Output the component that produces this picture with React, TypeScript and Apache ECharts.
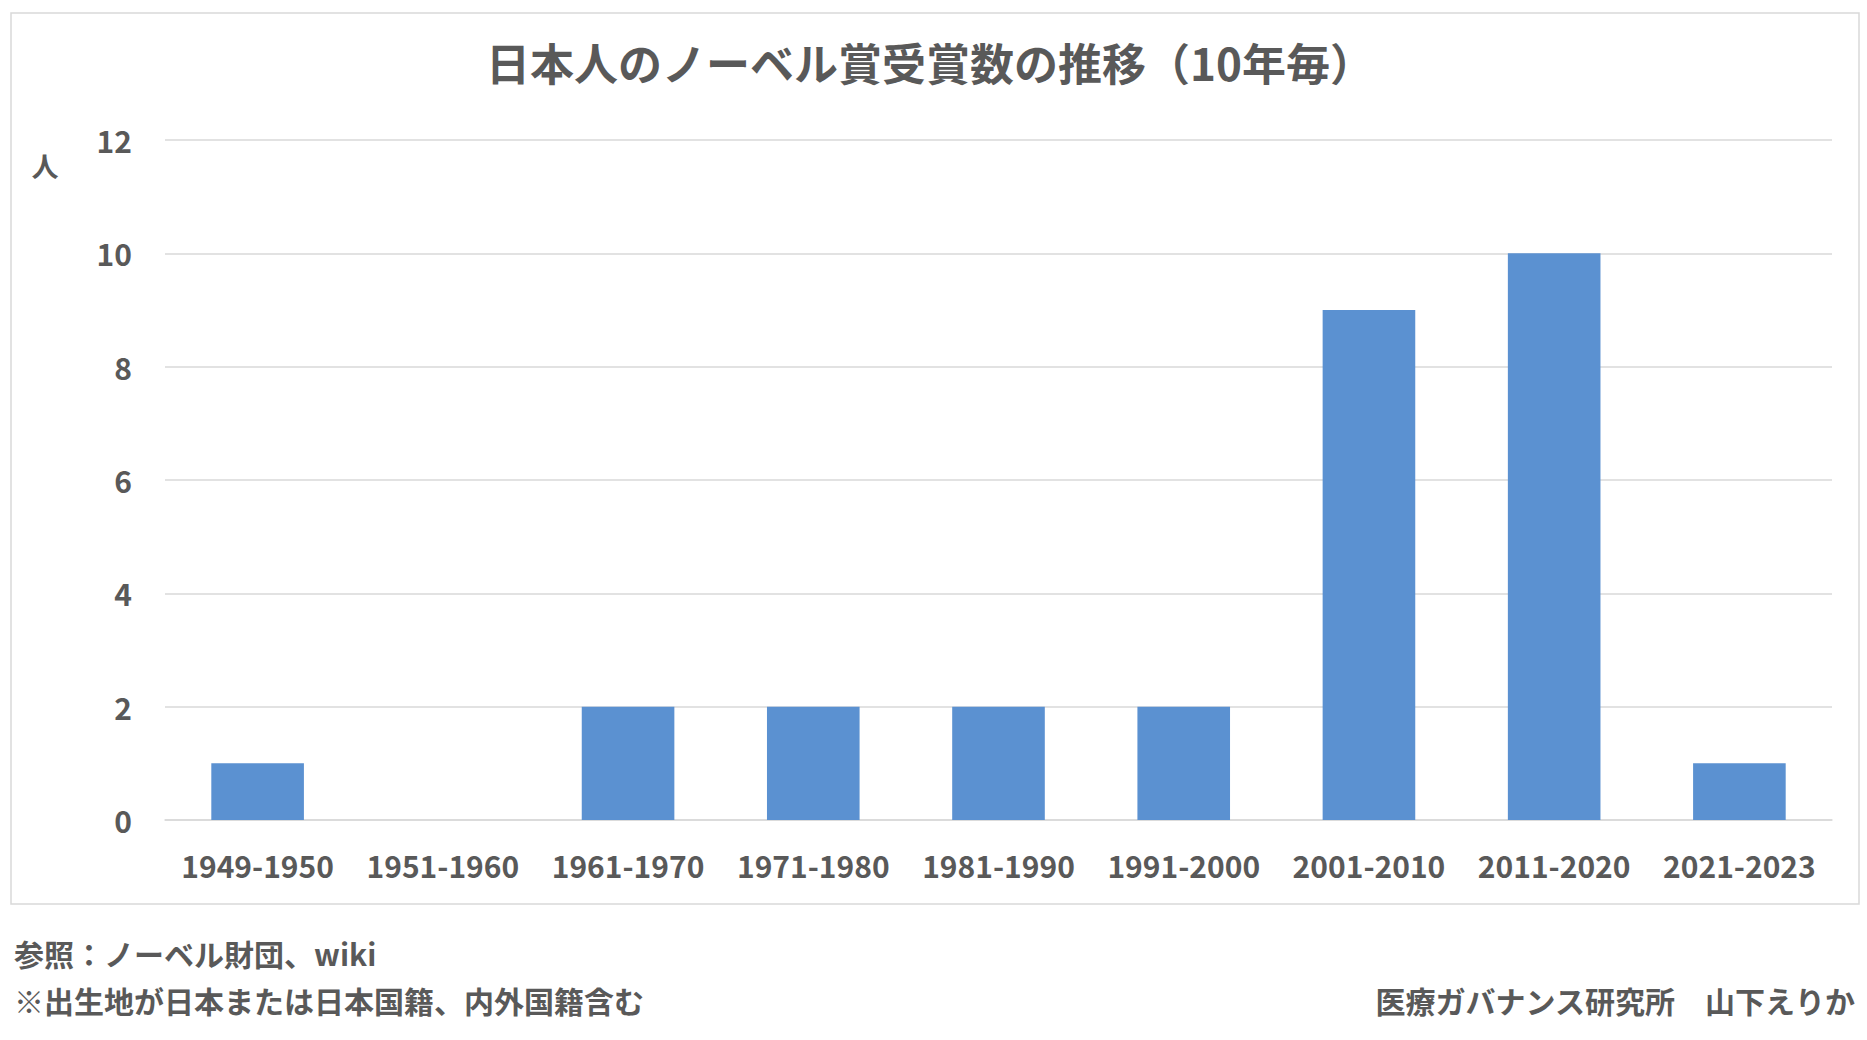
import React, { useEffect, useRef } from 'react';
import * as echarts from 'echarts';

const periods = [
  '1949-1950',
  '1951-1960',
  '1961-1970',
  '1971-1980',
  '1981-1990',
  '1991-2000',
  '2001-2010',
  '2011-2020',
  '2021-2023',
];

const laureates = [1, 0, 2, 2, 2, 2, 9, 10, 1];

const yTicks = { min: 0, max: 12, interval: 2 };

const titleText = '日本人のノーベル賞受賞数の推移（10年毎）';
const unitText = '人';
const sourceText = '参照：ノーベル財団、wiki';
const noteText = '※出生地が日本または日本国籍、内外国籍含む';
const creditText = '医療ガバナンス研究所　山下えりか';

const FONT = '"Noto Sans CJK JP", "Noto Sans", sans-serif';
const TEXT = '#595959';
const GRID = '#d9d9d9';
const BAR = '#5b91d1';

const App: React.FC = () => {
  const chartRef = useRef<HTMLDivElement>(null);

  useEffect(() => {
    if (!chartRef.current) return;
    const chart = echarts.init(chartRef.current, null, { renderer: 'svg' });

    const option: echarts.EChartsOption = {
      animation: false,
      backgroundColor: '#ffffff',
      textStyle: { fontFamily: FONT },
      title: {
        text: titleText,
        left: 925,
        top: 35,
        textAlign: 'center',
        textStyle: {
          fontFamily: FONT,
          fontSize: 44,
          fontWeight: 'bold',
          color: TEXT,
        },
      },
      grid: { left: 165, right: 35, top: 140, bottom: 220 },
      xAxis: {
        type: 'category',
        data: periods,
        axisLine: { lineStyle: { color: GRID, width: 1.5 } },
        axisTick: { show: false },
        axisLabel: {
          margin: 30,
          fontFamily: FONT,
          fontSize: 30,
          fontWeight: 'bold',
          color: TEXT,
          interval: 0,
        },
      },
      yAxis: {
        type: 'value',
        min: yTicks.min,
        max: yTicks.max,
        interval: yTicks.interval,
        axisLine: { show: false },
        axisTick: { show: false },
        splitLine: { lineStyle: { color: GRID, width: 1.5 } },
        axisLabel: {
          margin: 33,
          fontFamily: FONT,
          fontSize: 30,
          fontWeight: 'bold',
          color: TEXT,
        },
      },
      series: [
        {
          type: 'bar',
          data: laureates,
          barWidth: '50%',
          itemStyle: { color: BAR },
        },
      ],
      graphic: [
        {
          type: 'rect',
          shape: { x: 11, y: 13, width: 1848, height: 891 },
          style: { fill: 'none', stroke: GRID, lineWidth: 1.5 },
          silent: true,
          z: -1,
        },
        {
          type: 'text',
          x: 45,
          y: 165,
          style: {
            text: unitText,
            fontFamily: FONT,
            fontSize: 27,
            fontWeight: 'bold',
            fill: TEXT,
            align: 'center',
            verticalAlign: 'middle',
          },
        },
        {
          type: 'text',
          x: 14,
          y: 953,
          style: {
            text: sourceText,
            fontFamily: FONT,
            fontSize: 30,
            fontWeight: 'bold',
            fill: TEXT,
            align: 'left',
            verticalAlign: 'middle',
          },
        },
        {
          type: 'text',
          x: 14,
          y: 1000,
          style: {
            text: noteText,
            fontFamily: FONT,
            fontSize: 30,
            fontWeight: 'bold',
            fill: TEXT,
            align: 'left',
            verticalAlign: 'middle',
          },
        },
        {
          type: 'text',
          x: 1855,
          y: 1000,
          style: {
            text: creditText,
            fontFamily: FONT,
            fontSize: 30,
            fontWeight: 'bold',
            fill: TEXT,
            align: 'right',
            verticalAlign: 'middle',
          },
        },
      ],
    };

    chart.setOption(option);

    return () => {
      chart.dispose();
    };
  }, []);

  return (
    <div
      ref={chartRef}
      style={{ position: 'absolute', left: 0, top: 0, width: 1867, height: 1040 }}
    />
  );
};

export default App;
